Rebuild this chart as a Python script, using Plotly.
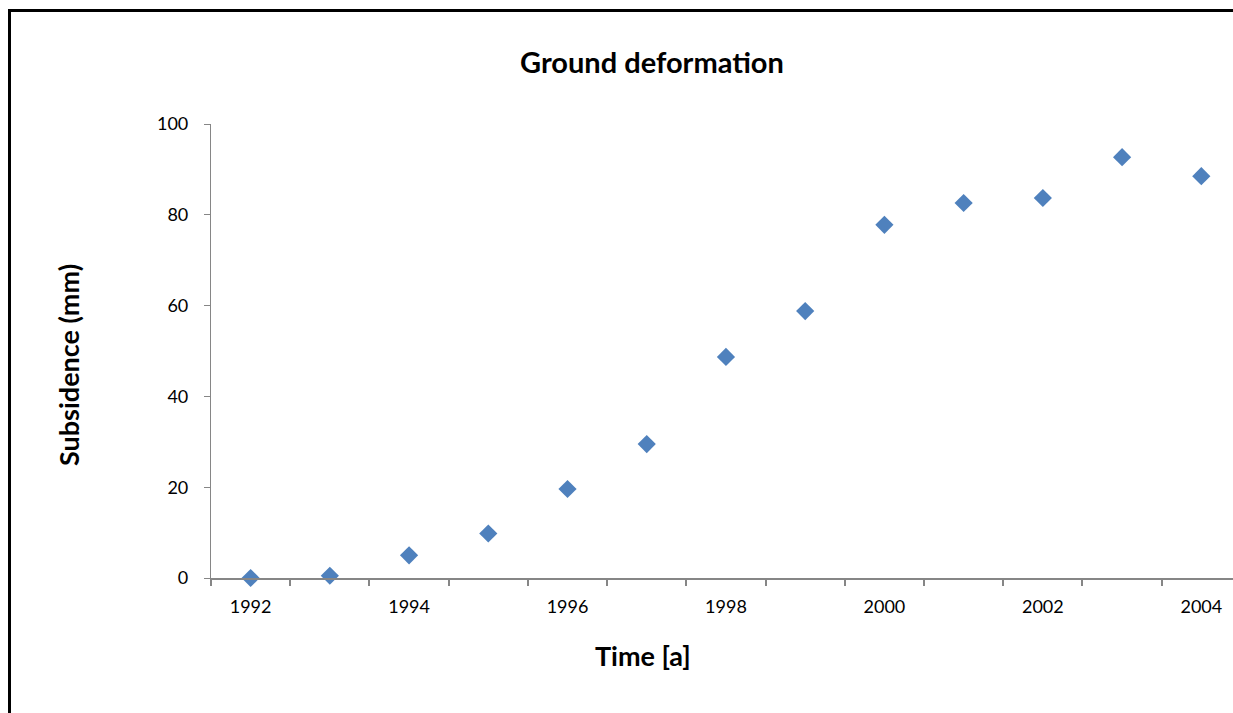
import plotly.graph_objects as go

years = [1992, 1993, 1994, 1995, 1996, 1997, 1998, 1999, 2000, 2001, 2002, 2003, 2004]
subsidence = [0, 0.5, 5.0, 9.8, 19.6, 29.5, 48.7, 58.8, 77.8, 82.6, 83.7, 92.7, 88.5]
label_years = [1992, 1994, 1996, 1998, 2000, 2002, 2004]
boundaries = [y - 0.5 for y in years] + [years[-1] + 0.5]
y_ticks = [0, 20, 40, 60, 80, 100]

FONT = "Lato, 'Open Sans', sans-serif"
x_range = [1991.5, 2004.4]

fig = go.Figure()
fig.add_trace(go.Scatter(
    x=years, y=subsidence, mode="markers",
    marker=dict(symbol="diamond", size=14, color="#4F81BD"),
    showlegend=False, cliponaxis=False,
))
# invisible helper trace so the label axis exists
fig.add_trace(go.Scatter(x=years, y=subsidence, xaxis="x2", mode="markers",
                         marker=dict(opacity=0), showlegend=False, hoverinfo="skip"))

fig.update_layout(
    width=1233, height=713,
    margin=dict(l=211, r=0, t=124, b=135),
    paper_bgcolor="white", plot_bgcolor="white",
    font=dict(family=FONT, size=18, color="black"),
    title=dict(text="<b>Ground deformation</b>", font=dict(size=29),
               x=0.4315, xref="paper", xanchor="center",
               y=1 - 63 / 713, yref="container", yanchor="middle"),
    xaxis=dict(range=x_range, tickmode="array", tickvals=boundaries,
               ticktext=[""] * len(boundaries), ticks="outside", ticklen=6,
               tickcolor="#868686", tickwidth=1.5, showline=True,
               linecolor="#868686", linewidth=2, showgrid=False, zeroline=False),
    xaxis2=dict(range=x_range, overlaying="x", side="bottom", anchor="y",
                tickmode="array", tickvals=label_years,
                ticktext=[str(v) for v in label_years], ticks="",
                ticklabelstandoff=16, showline=False,
                showgrid=False, zeroline=False, tickfont=dict(size=18)),
    yaxis=dict(range=[0, 100], tickmode="array", tickvals=y_ticks,
               ticks="outside", ticklen=6, tickcolor="#868686", tickwidth=1,
               showline=True, linecolor="#868686", linewidth=1.2,
               ticklabelstandoff=12,
               showgrid=False, zeroline=False, tickfont=dict(size=18)),
    annotations=[
        dict(text="<b>Time [a]</b>", x=(643 - 211) / 1022, xref="paper",
             y=-(655 - 578) / 454, yref="paper", showarrow=False,
             font=dict(size=27), xanchor="center", yanchor="middle"),
        dict(text="<b>Subsidence (mm)</b>", x=-(211 - 68) / 1022, xref="paper",
             y=(578 - 365) / 454, yref="paper", showarrow=False, textangle=-90,
             font=dict(size=27), xanchor="center", yanchor="middle"),
    ],
    shapes=[dict(type="rect", xref="paper", yref="paper",
                 x0=-(211 - 9.5) / 1022, x1=1.05,
                 y0=-0.4, y1=(578 - 10.5) / 454,
                 line=dict(color="black", width=3), layer="above")],
)

fig.write_html("out.html", config={"displayModeBar": False},
               post_script="document.body.style.margin='0';")
